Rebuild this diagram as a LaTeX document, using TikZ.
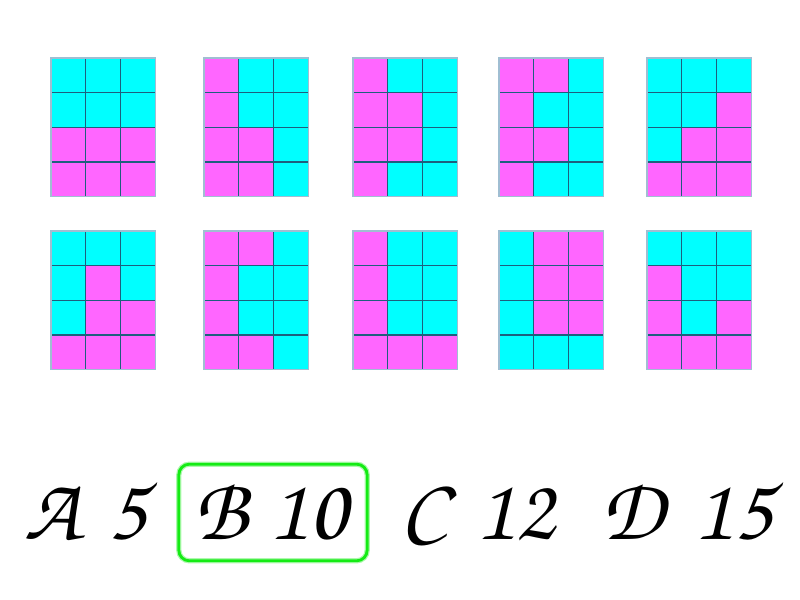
\documentclass[tikz,border=0pt]{standalone}
\usepackage[T1]{fontenc}

\definecolor{pk}{RGB}{255,102,255}
\definecolor{cy}{RGB}{0,255,255}
\definecolor{gridline}{RGB}{30,95,125}
\definecolor{gridedge}{RGB}{160,190,210}
\definecolor{okgreen}{RGB}{20,235,20}

\tikzset{
  answer/.style = {anchor = base, inner sep = 0pt,
    font = \fontfamily{pzc}\fontseries{mb}\fontshape{it}\fontsize{76}{76}\selectfont},
  pickbox/.style = {draw = okgreen, line width = 2.4pt, rounded corners = 9pt,
    minimum width = 5.65cm, minimum height = 2.9cm}
}

% one 3x4 card, top left corner at (#1,#2), rows given top to bottom
\newcommand{\card}[3]{%
  \foreach \a/\b/\c [count = \r from 0] in {#3} {
    \fill[\a] (#1, {#2 + \r*34.7}) rectangle ++(34.7, 34.7);
    \fill[\b] ({#1 + 34.7}, {#2 + \r*34.7}) rectangle ++(34.7, 34.7);
    \fill[\c] ({#1 + 69.4}, {#2 + \r*34.7}) rectangle ++(34.7, 34.7);
  }
  \foreach \i in {1,2} \draw[gridline, line width = 1.2pt] ({#1 + \i*34.7}, #2) -- ++(0, 138.8);
  \foreach \j in {1,2,3} \draw[gridline, line width = 1.2pt] (#1, {#2 + \j*34.7}) -- ++(104.1, 0);
  \draw[gridedge, line width = 1pt] (#1, #2) rectangle ++(104.1, 138.8);
}

\begin{document}
\begin{tikzpicture}[x = 0.03cm, y = -0.03cm]
\useasboundingbox (0,0) rectangle (800,600);

% top row
\card{51}{58}{cy/cy/cy, cy/cy/cy, pk/pk/pk, pk/pk/pk}
\card{204}{58}{pk/cy/cy, pk/cy/cy, pk/pk/cy, pk/pk/cy}
\card{353}{58}{pk/cy/cy, pk/pk/cy, pk/pk/cy, pk/cy/cy}
\card{499}{58}{pk/pk/cy, pk/cy/cy, pk/pk/cy, pk/cy/cy}
\card{647}{58}{cy/cy/cy, cy/cy/pk, cy/pk/pk, pk/pk/pk}

% bottom row
\card{51}{231}{cy/cy/cy, cy/pk/cy, cy/pk/pk, pk/pk/pk}
\card{204}{231}{pk/pk/cy, pk/cy/cy, pk/cy/cy, pk/pk/cy}
\card{353}{231}{pk/cy/cy, pk/cy/cy, pk/cy/cy, pk/pk/pk}
\card{499}{231}{cy/pk/pk, cy/pk/pk, cy/pk/pk, cy/cy/cy}
\card{647}{231}{cy/cy/cy, pk/cy/cy, pk/cy/pk, pk/pk/pk}

% choices
\node [answer] (letA) at (52,540) {A};
\node [answer] (numA) at (127,540) {5};
\node [answer] (letB) at (221,540) {B};
\node [answer] (numB) at (308,540) {10};
\node [answer] (letC) at (424,540) {C};
\node [answer] (numC) at (515,540) {12};
\node [answer] (letD) at (633,540) {D};
\node [answer] (numD) at (733,540) {15};

\node [pickbox, draw = okgreen!35, line width = 4.5pt] (glowB) at (273,512.5) {};
\node [pickbox] (boxB) at (273,512.5) {};

\end{tikzpicture}
\end{document}
